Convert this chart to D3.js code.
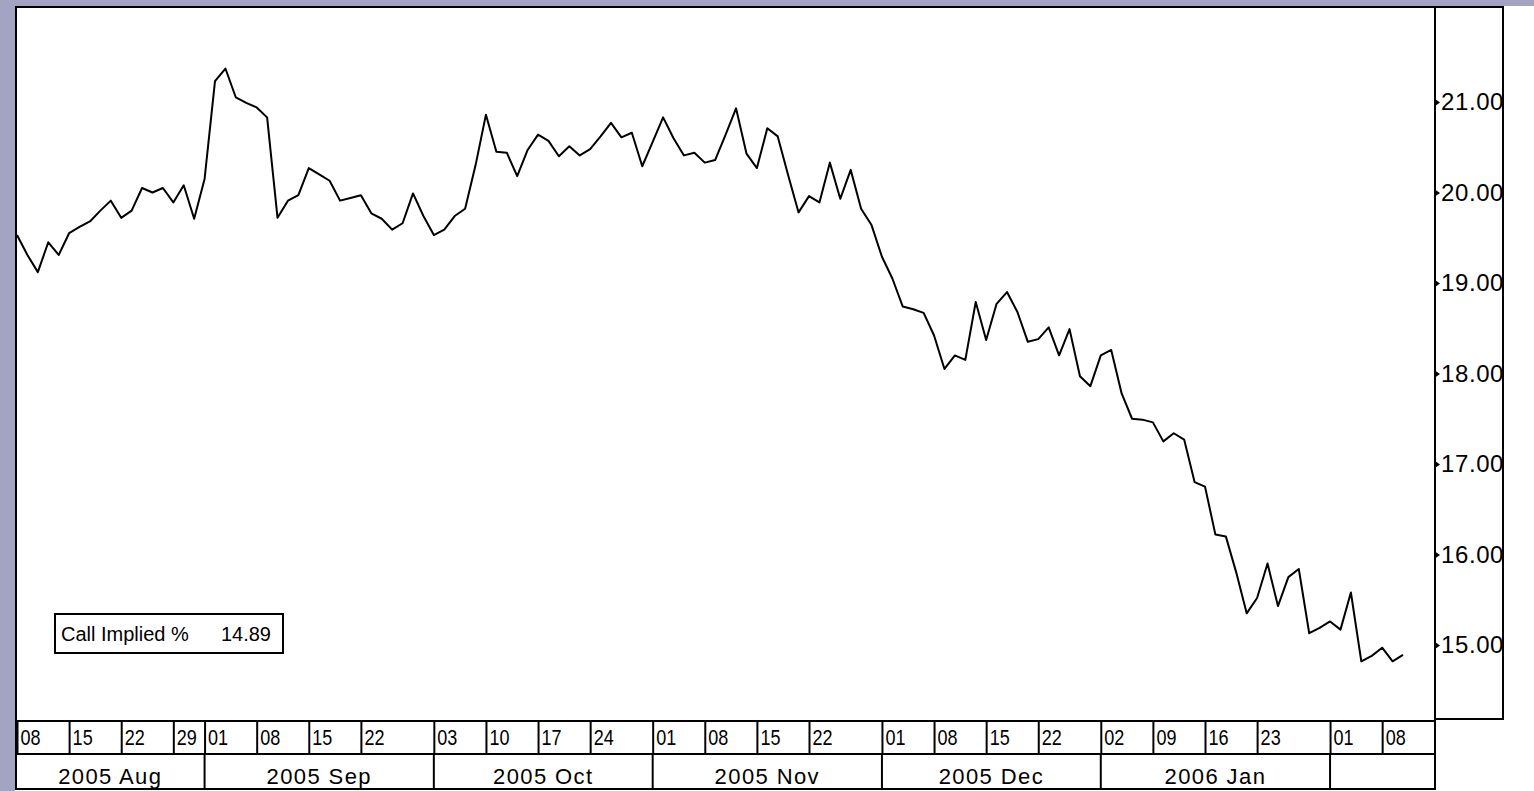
<!DOCTYPE html>
<html>
<head>
<meta charset="utf-8">
<script src="https://cdn.jsdelivr.net/npm/d3@7"></script>
<style>
html, body { margin: 0; padding: 0; background: #fff; }
svg { display: block; font-family: "Liberation Sans", Arial, sans-serif; }
</style>
</head>
<body>
<svg id="chart" width="1534" height="791"></svg>
<script>
// trading days: weekdays from first to last, market closed on the listed holidays
var firstDay = "2005-08-08";
var lastDay = "2006-02-10";
var holidays = ["2005-12-26"];

// call implied volatility, one value per trading day
var impliedVol = [
	19.53, 19.31, 19.12, 19.45, 19.31, 19.55, 19.62, 19.68, 19.80, 19.91,
	19.72, 19.80, 20.05, 20.00, 20.05, 19.89, 20.08, 19.71, 20.15, 21.23,
	21.37, 21.05, 20.99, 20.94, 20.83, 19.72, 19.91, 19.97, 20.27, 20.20,
	20.13, 19.91, 19.94, 19.97, 19.77, 19.71, 19.59, 19.66, 19.99, 19.74,
	19.53, 19.59, 19.74, 19.82, 20.30, 20.86, 20.45, 20.44, 20.18, 20.47,
	20.64, 20.57, 20.40, 20.51, 20.41, 20.48, 20.62, 20.77, 20.61, 20.66,
	20.29, 20.56, 20.83, 20.60, 20.41, 20.44, 20.33, 20.36, 20.64, 20.93,
	20.43, 20.27, 20.71, 20.62, 20.19, 19.78, 19.96, 19.89, 20.33, 19.93,
	20.25, 19.82, 19.64, 19.29, 19.05, 18.74, 18.71, 18.67, 18.42, 18.05,
	18.20, 18.15, 18.79, 18.37, 18.77, 18.90, 18.68, 18.35, 18.38, 18.51,
	18.20, 18.49, 17.97, 17.86, 18.20, 18.26, 17.78, 17.50, 17.49, 17.46,
	17.25, 17.34, 17.27, 16.80, 16.75, 16.22, 16.20, 15.80, 15.35, 15.52,
	15.90, 15.43, 15.75, 15.84, 15.13, 15.19, 15.26, 15.17, 15.58, 14.82,
	14.88, 14.97, 14.82, 14.89
];

var yTicks = [15, 16, 17, 18, 19, 20, 21];

var weekTicks = [
	"2005-08-08", "2005-08-15", "2005-08-22", "2005-08-29",
	"2005-09-01", "2005-09-08", "2005-09-15", "2005-09-22",
	"2005-10-03", "2005-10-10", "2005-10-17", "2005-10-24",
	"2005-11-01", "2005-11-08", "2005-11-15", "2005-11-22",
	"2005-12-01", "2005-12-08", "2005-12-15", "2005-12-22",
	"2006-01-02", "2006-01-09", "2006-01-16", "2006-01-23",
	"2006-02-01", "2006-02-08"
];

var monthLabels = ["2005 Aug", "2005 Sep", "2005 Oct", "2005 Nov", "2005 Dec", "2006 Jan", ""];

var seriesName = "Call Implied %";

// layout
var plotLeft = 16, plotRight = 1435, plotTop = 7, plotBottom = 721;
var axisRight = 1503, axisBottom = 719;
var weekBottom = 754, monthBottom = 789;

var parse = d3.timeParse("%Y-%m-%d");
var fmt = d3.timeFormat("%Y-%m-%d");
var holidaySet = new Set(holidays);

var dates = d3.timeDay.range(parse(firstDay), d3.timeDay.offset(parse(lastDay), 1))
	.filter(function(d) {
		var w = d.getDay();
		return w > 0 && w < 6 && !holidaySet.has(fmt(d));
	});

var indexOf = {};
dates.forEach(function(d, i) { indexOf[fmt(d)] = i; });

var series = impliedVol.map(function(v, i) { return { i: i, date: dates[i], v: v }; });

var x = d3.scaleLinear()
	.domain([0, dates.length - 1])
	.range([17, 1403]);

var y = d3.scaleLinear()
	.domain([15, 21])
	.range([645, 102]);

var svg = d3.select("#chart");

// window background
svg.append("rect")
	.attr("width", 1534).attr("height", 791)
	.attr("fill", "#fff");
svg.append("rect")
	.attr("width", 1534).attr("height", 6)
	.attr("fill", "#a3a3c2");
svg.append("rect")
	.attr("width", 15).attr("height", 791)
	.attr("fill", "#a3a3c2");

// price line
svg.append("path")
	.datum(series)
	.attr("fill", "none")
	.attr("stroke", "#000")
	.attr("stroke-width", 2)
	.attr("stroke-linejoin", "round")
	.attr("d", d3.line()
		.x(function(d) { return x(d.i); })
		.y(function(d) { return y(d.v); }));

// legend box
var legend = svg.append("g").attr("class", "legend");
legend.append("rect")
	.attr("x", 55).attr("y", 614)
	.attr("width", 228).attr("height", 39)
	.attr("fill", "#fff")
	.attr("stroke", "#000")
	.attr("stroke-width", 2);
legend.append("text")
	.attr("x", 61).attr("y", 641)
	.attr("font-size", 20)
	.text(seriesName);
legend.append("text")
	.attr("x", 271).attr("y", 641)
	.attr("font-size", 20)
	.attr("text-anchor", "end")
	.text(d3.format(".2f")(impliedVol[impliedVol.length - 1]));

// right value axis
svg.append("clipPath")
	.attr("id", "axis-clip")
	.append("rect")
	.attr("x", plotRight).attr("y", plotTop)
	.attr("width", axisRight - plotRight - 1)
	.attr("height", axisBottom - plotTop);

var yAxisG = svg.append("g")
	.attr("clip-path", "url(#axis-clip)")
	.append("g")
	.attr("transform", "translate(" + plotRight + ",0)")
	.call(d3.axisRight(y)
		.tickValues(yTicks)
		.tickFormat(d3.format(".2f"))
		.tickSize(0)
		.tickPadding(6));

yAxisG.select(".domain").remove();
yAxisG.selectAll(".tick text")
	.attr("font-size", 24)
	.attr("letter-spacing", 0.6)
	.attr("font-family", "'Liberation Sans', Arial, sans-serif")
	.attr("fill", "#000");
yAxisG.selectAll(".tick")
	.append("path")
	.attr("d", "M0,-3.5L5,0L0,3.5Z")
	.attr("fill", "#000");

// week row
var weekIdx = weekTicks.map(function(s) { return indexOf[s]; });
var dayFmt = d3.timeFormat("%d");

var xAxisG = svg.append("g")
	.attr("transform", "translate(0," + plotBottom + ")")
	.call(d3.axisBottom(x)
		.tickValues(weekIdx)
		.tickFormat(function(i) { return dayFmt(dates[i]); })
		.tickSize(weekBottom - plotBottom)
		.tickSizeOuter(0));

xAxisG.select(".domain").remove();
xAxisG.selectAll(".tick line")
	.attr("stroke", "#000")
	.attr("stroke-width", 2);
xAxisG.selectAll(".tick text")
	.attr("text-anchor", "start")
	.attr("fill", "#000")
	.attr("font-size", 22)
	.attr("font-family", "'Liberation Sans', Arial, sans-serif")
	.attr("dy", null)
	.attr("y", null)
	.attr("transform", "translate(3,24) scale(0.82,1)");

// month row
var monthStarts = [];
dates.forEach(function(d, i) {
	if (i > 0 && d.getMonth() !== dates[i - 1].getMonth()) monthStarts.push(i);
});
var edges = [plotLeft].concat(monthStarts.map(function(i) { return x(i); }), [plotRight]);
var cells = monthLabels.map(function(label, k) {
	return { label: label, x0: edges[k], x1: edges[k + 1] };
});

var months = svg.append("g").attr("class", "months");
months.selectAll("line")
	.data(monthStarts)
	.enter()
	.append("line")
	.attr("x1", function(i) { return x(i); })
	.attr("x2", function(i) { return x(i); })
	.attr("y1", weekBottom)
	.attr("y2", monthBottom)
	.attr("stroke", "#000")
	.attr("stroke-width", 2);
months.selectAll("text")
	.data(cells)
	.enter()
	.append("text")
	.attr("x", function(d) { return (d.x0 + d.x1) / 2; })
	.attr("y", 784)
	.attr("text-anchor", "middle")
	.attr("font-size", 22)
	.attr("letter-spacing", 1.4)
	.text(function(d) { return d.label; });

// frames
var frame = svg.append("g")
	.attr("fill", "none")
	.attr("stroke", "#000")
	.attr("stroke-width", 2);
frame.append("rect")
	.attr("x", plotLeft).attr("y", plotTop)
	.attr("width", plotRight - plotLeft)
	.attr("height", monthBottom - plotTop);
frame.append("rect")
	.attr("x", plotRight).attr("y", plotTop)
	.attr("width", axisRight - plotRight)
	.attr("height", axisBottom - plotTop);
frame.append("line")
	.attr("x1", plotLeft).attr("x2", plotRight)
	.attr("y1", plotBottom).attr("y2", plotBottom);
frame.append("line")
	.attr("x1", plotLeft).attr("x2", plotRight)
	.attr("y1", weekBottom).attr("y2", weekBottom);
</script>
</body>
</html>
